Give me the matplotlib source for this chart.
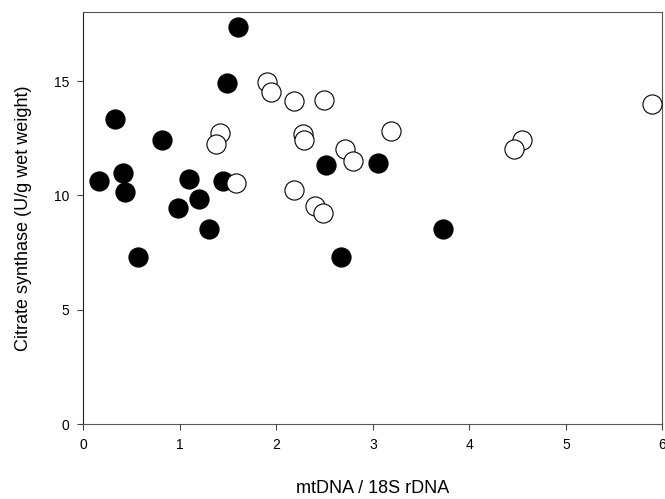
import matplotlib
matplotlib.use('Agg')
import matplotlib.pyplot as plt

plt.rcParams['font.family'] = ['Liberation Sans', 'DejaVu Sans']

# filled circles
filled_x = [0.16, 0.33, 0.41, 0.43, 0.57, 0.82, 0.98, 1.09, 1.20, 1.30,
            1.45, 1.49, 1.60, 2.51, 2.67, 3.05, 3.73]
filled_y = [10.65, 13.33, 10.99, 10.14, 7.33, 12.43, 9.43, 10.72, 9.85, 8.52,
            10.65, 14.93, 17.36, 11.35, 7.33, 11.43, 8.52]

# open circles
open_x = [1.42, 1.37, 1.58, 1.90, 1.94, 2.18, 2.49, 2.28, 2.29, 2.18,
          2.40, 2.48, 2.71, 2.79, 3.19, 4.55, 4.46, 5.89]
open_y = [12.75, 12.23, 10.53, 14.95, 14.54, 14.14, 14.16, 12.70, 12.43, 10.24,
          9.55, 9.22, 12.04, 11.50, 12.82, 12.44, 12.04, 14.02]

fig = plt.figure(figsize=(6.65, 4.99), dpi=100)
ax = fig.add_axes([0.1253, 0.150, 0.8707, 0.825])

ax.scatter(filled_x, filled_y, s=190, c='black', edgecolors='black',
           linewidths=0.8, zorder=3, clip_on=False)
ax.scatter(open_x, open_y, s=190, c='white', edgecolors='black',
           linewidths=0.8, zorder=3, clip_on=False)

ax.set_xlim(0, 6)
ax.set_ylim(0, 18)
ax.set_xticks([0, 1, 2, 3, 4, 5, 6])
ax.set_yticks([0, 5, 10, 15])

for s in ax.spines.values():
    s.set_linewidth(0.8)
    s.set_color('#555555')
ax.spines['left'].set_color('#222222')

ax.tick_params(direction='out', length=4, width=0.8, color='#444444',
               labelsize=10, pad=6)

ax.set_xlabel('mtDNA / 18S rDNA', fontsize=13, labelpad=20)
ax.set_ylabel('Citrate synthase (U/g wet weight)', fontsize=13, labelpad=16)

fig.savefig('out.png', dpi=100)
